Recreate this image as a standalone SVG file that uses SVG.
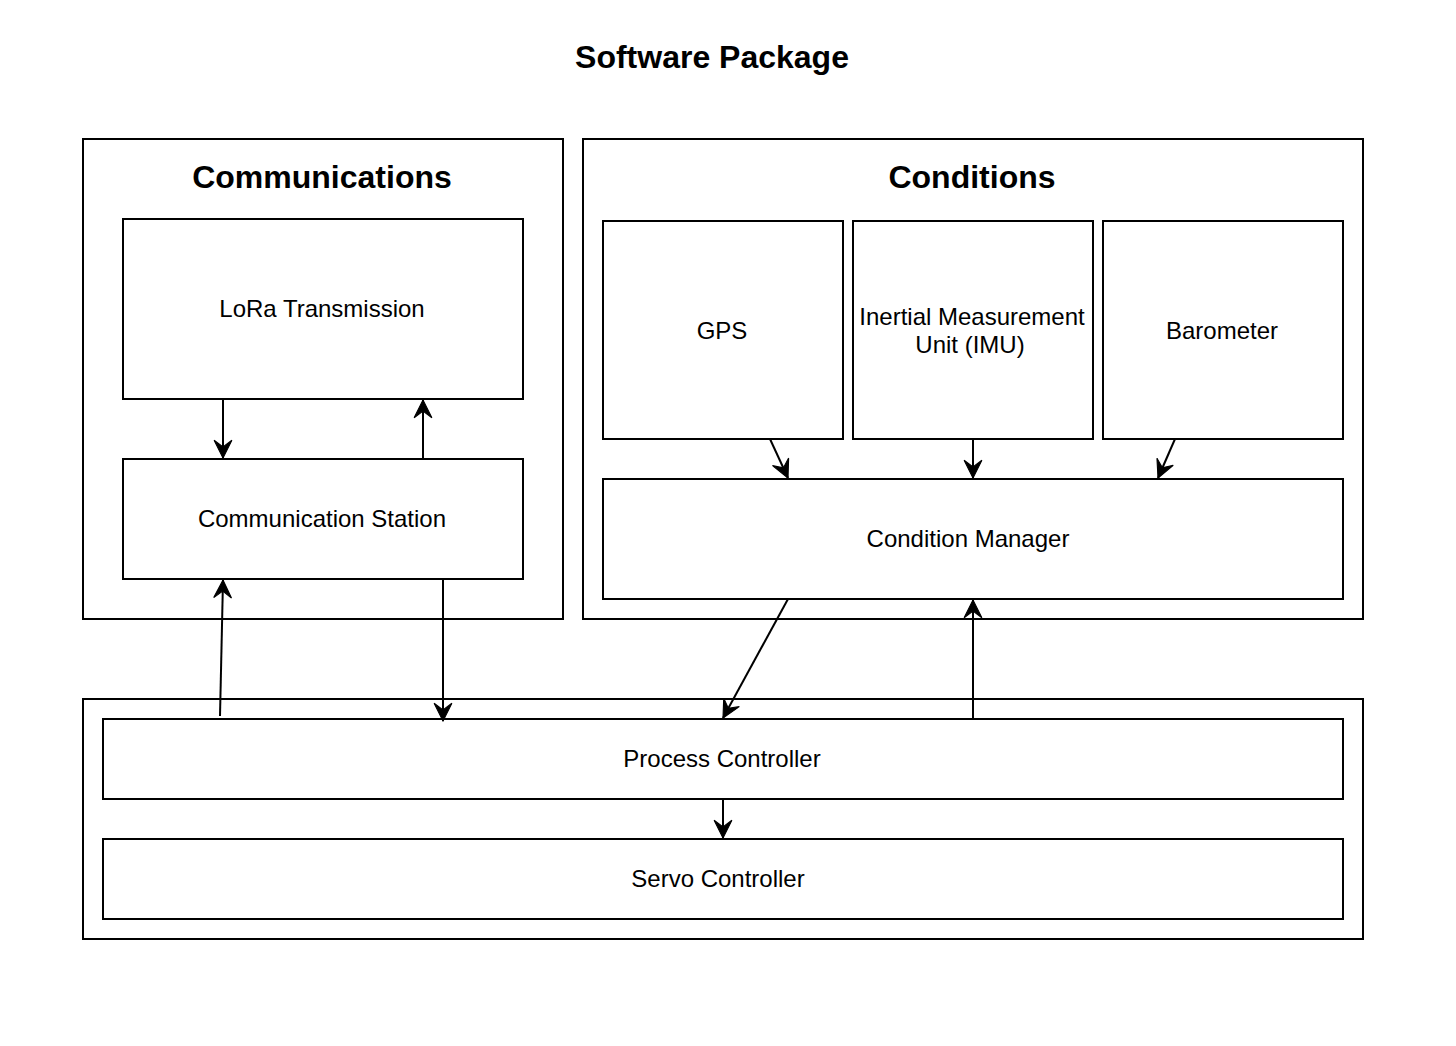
<svg xmlns="http://www.w3.org/2000/svg" width="1456" height="1046" viewBox="0 0 1456 1046">
<style>
.box{fill:#fff;stroke:#000;stroke-width:2}
.t{font-family:"Liberation Sans",Arial,sans-serif;font-size:24px;text-anchor:middle;fill:#000}
.h{font-family:"Liberation Sans",Arial,sans-serif;font-size:32px;font-weight:bold;text-anchor:middle;fill:#000}
.c{fill:none;stroke:#000;stroke-width:2}
</style>
<defs>
<marker id="arr" markerUnits="userSpaceOnUse" markerWidth="20" markerHeight="20" viewBox="-17 -9 18 18" refX="0" refY="0" orient="auto">
<path d="M0,0 L-16,-8 L-10,0 L-16,8 Z" fill="#000" stroke="#000" stroke-width="1"/>
</marker>
</defs>
<rect width="1456" height="1046" fill="#fff"/>
<text class="h" x="712" y="68">Software Package</text>
<g id="communications">
<rect class="box" x="83" y="139" width="480" height="480"/>
<text class="h" x="322" y="188">Communications</text>
</g>
<g id="lora">
<rect class="box" x="123" y="219" width="400" height="180"/>
<text class="t" x="322" y="317">LoRa Transmission</text>
</g>
<g id="commstation">
<rect class="box" x="123" y="459" width="400" height="120"/>
<text class="t" x="322" y="527">Communication Station</text>
</g>
<g id="conditions">
<rect class="box" x="583" y="139" width="780" height="480"/>
<text class="h" x="972" y="188">Conditions</text>
</g>
<g id="gps">
<rect class="box" x="603" y="221" width="240" height="218"/>
<text class="t" x="722" y="339">GPS</text>
</g>
<g id="imu">
<rect class="box" x="853" y="221" width="240" height="218"/>
<text class="t" x="972" y="325">Inertial Measurement</text>
<text class="t" x="970" y="353">Unit (IMU)</text>
</g>
<g id="barometer">
<rect class="box" x="1103" y="221" width="240" height="218"/>
<text class="t" x="1222" y="339">Barometer</text>
</g>
<g id="condmanager">
<rect class="box" x="603" y="479" width="740" height="120"/>
<text class="t" x="968" y="547">Condition Manager</text>
</g>
<g id="processing">
<rect class="box" x="83" y="699" width="1280" height="240"/>
</g>
<g id="process">
<rect class="box" x="103" y="719" width="1240" height="80"/>
<text class="t" x="722" y="767">Process Controller</text>
</g>
<g id="servo">
<rect class="box" x="103" y="839" width="1240" height="80"/>
<text class="t" x="718" y="887">Servo Controller</text>
</g>
<g id="connectors">
<line class="c" x1="223" y1="399" x2="223" y2="458" marker-end="url(#arr)"/>
<line class="c" x1="423" y1="459" x2="423" y2="400" marker-end="url(#arr)"/>
<line class="c" x1="220" y1="716" x2="223" y2="580" marker-end="url(#arr)"/>
<line class="c" x1="443" y1="579" x2="443" y2="721" marker-end="url(#arr)"/>
<line class="c" x1="770" y1="439" x2="788" y2="478" marker-end="url(#arr)"/>
<line class="c" x1="973" y1="439" x2="973" y2="478" marker-end="url(#arr)"/>
<line class="c" x1="1175" y1="439" x2="1158" y2="478" marker-end="url(#arr)"/>
<line class="c" x1="788" y1="599" x2="723" y2="718" marker-end="url(#arr)"/>
<line class="c" x1="973" y1="719" x2="973" y2="600" marker-end="url(#arr)"/>
<line class="c" x1="723" y1="799" x2="723" y2="838" marker-end="url(#arr)"/>
</g>
</svg>
